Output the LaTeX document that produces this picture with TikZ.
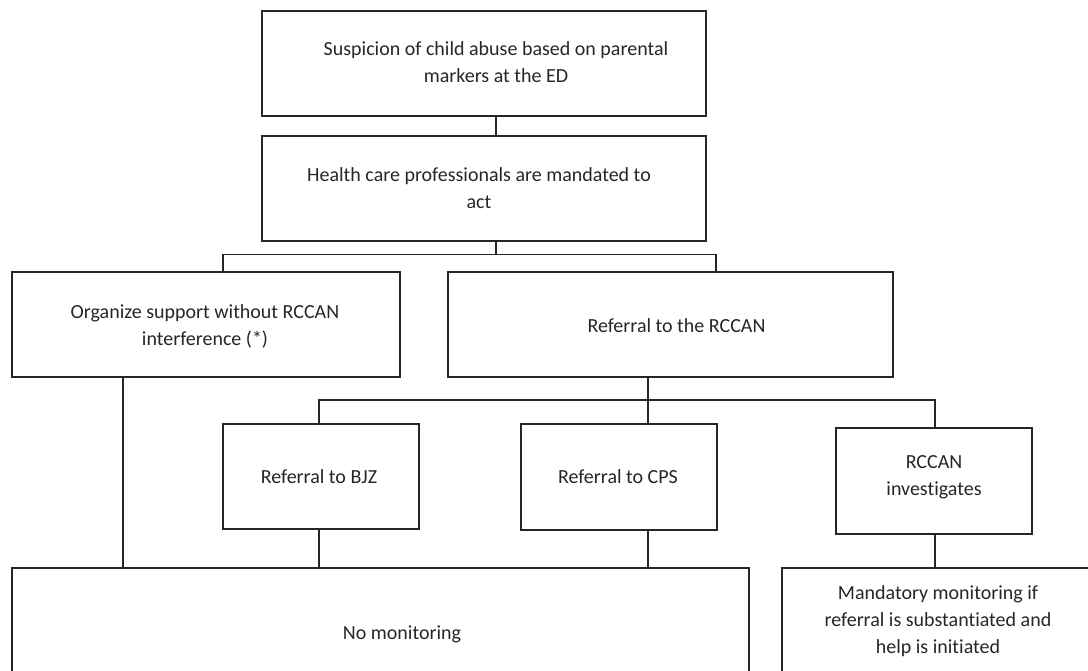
\documentclass[tikz,border=0pt]{standalone}
\usepackage{fontspec}
\setmainfont{Carlito}[Ligatures={NoCommon}]
\begin{document}
\begin{tikzpicture}[x=1pt,y=-1pt,
  box/.style={draw=black!85, line width=1.3pt, rectangle, inner sep=0pt},
  txt/.style={align=center, font=\fontsize{20}{27}\selectfont, text=black!85, inner sep=0pt},
  link/.style={draw=black!85, line width=1.3pt}]
\useasboundingbox (0,0) rectangle (1088,670);
\clip (0,0) rectangle (1088,670);
% boxes
\node[box, minimum width=444pt, minimum height=105pt] (b1) at (484,63.5) {};
\node[txt] (t1) at (496,62) {Suspicion of child abuse based on parental\\markers at the ED};
\node[box, minimum width=444pt, minimum height=105pt] (b2) at (484,188.5) {};
\node[txt] (t2) at (479,188) {Health care professionals are mandated to\\act};
\node[box, minimum width=388pt, minimum height=105pt] (b3) at (206,324.5) {};
\node[txt] (t3) at (205,326) {Organize support without RCCAN\\interference (*)};
\node[box, minimum width=445pt, minimum height=105pt] (b4) at (670.5,324.5) {};
\node[txt] (t4) at (676.5,326) {Referral to the RCCAN};
\node[box, minimum width=196pt, minimum height=105pt] (b5) at (321,476.5) {};
\node[txt] (t5) at (319,477) {Referral to BJZ};
\node[box, minimum width=196pt, minimum height=106pt] (b6) at (619,477) {};
\node[txt] (t6) at (618,477) {Referral to CPS};
\node[box, minimum width=196pt, minimum height=106pt] (b7) at (934,481) {};
\node[txt] (t7) at (934,477) {RCCAN\\investigates};
\node[box, minimum width=737pt, minimum height=130pt] (b8) at (380.5,633) {};
\node[txt] (t8) at (402,634) {No monitoring};
\node[box, minimum width=330pt, minimum height=130pt] (b9) at (947,633) {};
\node[txt] (t9) at (938,621) {Mandatory monitoring if\\referral is substantiated and\\help is initiated};
% junctions
\coordinate (j1) at (496,254.5);
\coordinate (j1l) at (223,254.5);
\coordinate (j1r) at (716,254.5);
\coordinate (j2) at (648,400);
\coordinate (j2l) at (319,400);
\coordinate (j2r) at (935,400);
\coordinate (j3) at (123,400);
% connectors
\draw[link] (t1 |- b1.south) -- (t1 |- b2.north);
\draw[link] (j1 |- b2.south) -- (j1);
\draw[link] (j1l |- b3.north) -- (j1l) -- (j1r) -- (j1r |- b4.north);
\draw[link] (j3 |- b3.south) -- (j3 |- b8.north);
\draw[link] (j2 |- b4.south) -- (j2);
\draw[link] (j2l |- b5.north) -- (j2l) -- (j2r) -- (j2r |- b7.north);
\draw[link] (j2) -- (j2 |- b6.north);
\draw[link] (j2l |- b5.south) -- (j2l |- b8.north);
\draw[link] (j2 |- b6.south) -- (j2 |- b8.north);
\draw[link] (j2r |- b7.south) -- (j2r |- b9.north);
\end{tikzpicture}
\end{document}
